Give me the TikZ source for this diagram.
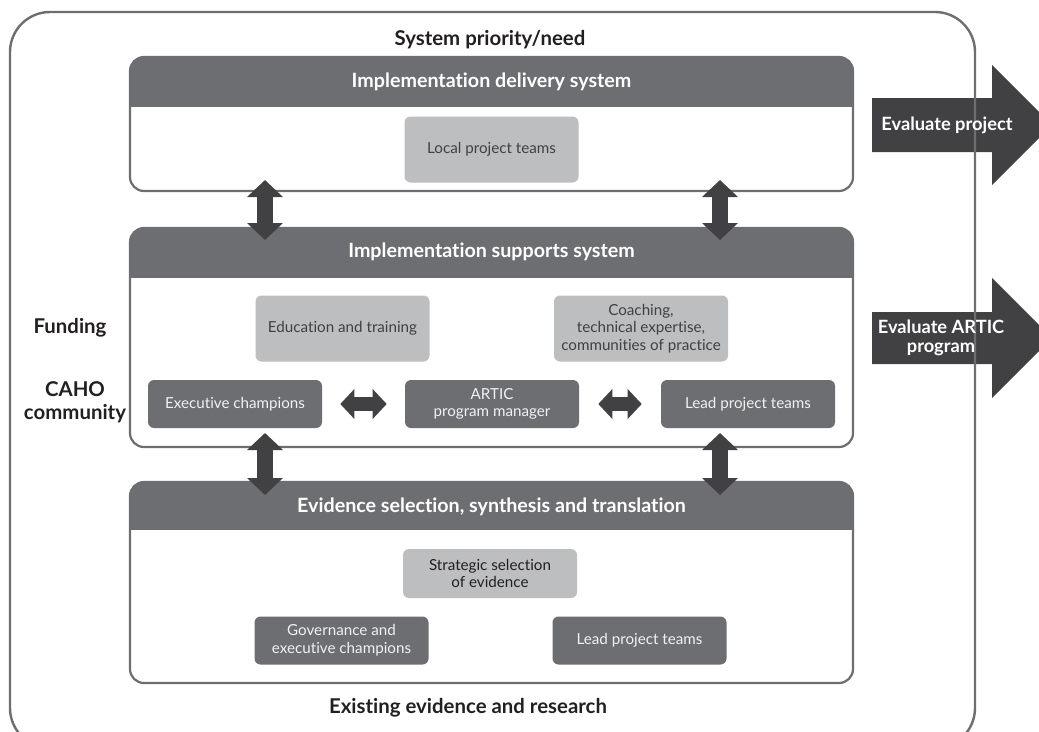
\documentclass[tikz,border=0pt]{standalone}
\usepackage{fontspec}
\setmainfont{Lato}[Ligatures=NoCommon]
\usepackage{xcolor}
\usetikzlibrary{positioning,arrows.meta,calc}
\definecolor{hdrgray}{HTML}{6D6E71}
\definecolor{boxlight}{HTML}{BCBEC0}
\definecolor{arrowdark}{HTML}{414042}
\definecolor{inkdark}{HTML}{231F20}
\definecolor{inklight}{HTML}{F1F1F2}
\newlength\pxl
\setlength\pxl{0.25mm}

\begin{document}
\begin{tikzpicture}[
  x=0.25mm,y=-0.25mm,
  font=\fontsize{10.8}{12.6}\selectfont,
  %--- node styles ---
  panel/.style  ={fill=white,rounded corners=3.5mm,outer sep=0pt,inner sep=0pt,
                  minimum width=723\pxl},
  rim/.style    ={draw=hdrgray,line width=0.55mm,rounded corners=3.5mm},
  hdr/.style    ={text=white,font=\fontsize{14}{16}\selectfont\bfseries},
  lbox/.style   ={fill=boxlight,text=arrowdark,rounded corners=1.5mm,align=center,
                  minimum width=174\pxl,minimum height=66\pxl,inner sep=2pt},
  dbox/.style   ={fill=hdrgray,text=inklight,rounded corners=1.5mm,align=center,
                  minimum width=174\pxl,minimum height=48\pxl,inner sep=2pt},
  side/.style   ={text=inkdark,font=\fontsize{14.5}{16.5}\selectfont\bfseries,align=center},
  evl/.style    ={text=white,font=\fontsize{13}{15}\selectfont\bfseries,align=center},
  %--- arrow styles ---
  dbl/.style    ={{Triangle[width=8.75mm,length=4.25mm]}-{Triangle[width=8.75mm,length=4.25mm]},
                  line width=4mm,draw=arrowdark},
  hdbl/.style   ={{Triangle[width=7.25mm,length=3.5mm]}-{Triangle[width=7.25mm,length=3.5mm]},
                  line width=3.5mm,draw=arrowdark},
]
\useasboundingbox (0,0) rectangle (1039,731);

%==================== evaluation arrows (under the frame) ====================
\fill[arrowdark] (872,98) -- (992,98) -- (992,65) -- (1052,125)
  -- (992,185) -- (992,152) -- (872,152) -- cycle;
\fill[arrowdark] (872,312) -- (992,312) -- (992,278) -- (1052,338)
  -- (992,398) -- (992,364) -- (872,364) -- cycle;

%==================== outer frame ====================
\draw[draw=hdrgray,line width=0.6mm,rounded corners=1cm] (10,12) rectangle (975,748);

\node[evl] (evalp) at (947,125) {Evaluate project};
\node[evl] (evala) at (941,338) {Evaluate ARTIC\\[-1pt]program};

\node[side] (need)  at (490,40)  {System priority/need};
\node[side] (exist) at (468,708) {Existing evidence and research};
\node[side] (fund)  at (70,328)  {Funding};
\node[side] (caho)  at (75,402)  {CAHO\\community};

%==================== panels ====================
\node[panel,minimum height=134\pxl] (deliv) at (491.5,124)   {};
\node[panel,minimum height=219\pxl] (supp)  at (491.5,337.5) {};
\node[panel,minimum height=201\pxl] (evid)  at (491.5,582.5) {};

\foreach \p/\h in {deliv/50,supp/50,evid/48}{
  \begin{scope}
    \clip[rounded corners=3.5mm] (\p.north west) rectangle (\p.south east);
    \fill[hdrgray] (\p.north west) rectangle ([yshift=-\h\pxl]\p.north east);
  \end{scope}
  \draw[rim] (\p.north west) rectangle (\p.south east);
}

\node[hdr] (delivhd) at (491.5,82)  {Implementation delivery system};
\node[hdr] (supphd)  at (491.5,252) {Implementation supports system};
\node[hdr] (evidhd)  at (491.5,507) {Evidence selection, synthesis and translation};

%==================== boxes ====================
\node[lbox] (local) at (491.5,149.5) {Local project teams};

\node[lbox] (edu)   at (342.5,328.5) {Education and training};
\node[lbox] (coach) at (641,328.5)   {Coaching,\\technical expertise,\\communities of practice};
\node[dbox] (exec)  at (235,404)     {Executive champions};
\node[dbox] (artic) at (492,404)     {ARTIC\\program manager};
\node[dbox] (leada) at (748,404)     {Lead project teams};

\node[lbox,minimum height=49\pxl,text=inkdark] (strat) at (490,573.5)
  {Strategic selection\\of evidence};
\node[dbox] (gov)   at (341.5,640.5) {Governance and\\executive champions};
\node[dbox] (leadb) at (639.5,640.5) {Lead project teams};

%==================== two-way arrows ====================
\draw[dbl] ([shift={(135,-11)}]deliv.south west) -- ([shift={(135,12)}]supp.north west);
\draw[dbl] ([shift={(-133,-11)}]deliv.south east) -- ([shift={(-133,12)}]supp.north east);
\draw[dbl] ([shift={(135,-14)}]supp.south west) -- ([shift={(135,13)}]evid.north west);
\draw[dbl] ([shift={(-133,-14)}]supp.south east) -- ([shift={(-133,13)}]evid.north east);

\draw[hdbl] ([xshift=18\pxl]exec.east)  -- ([xshift=-18\pxl]artic.west);
\draw[hdbl] ([xshift=19\pxl]artic.east) -- ([xshift=-19\pxl]leada.west);

\end{tikzpicture}
\end{document}
